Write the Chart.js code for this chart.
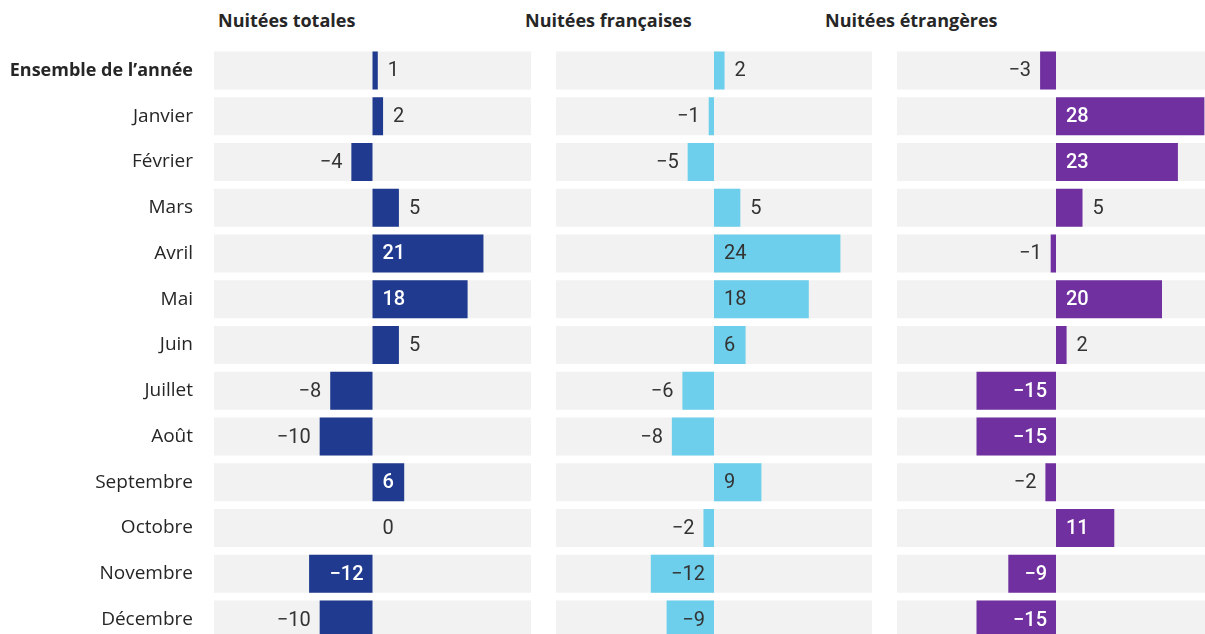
<!DOCTYPE html>
<html lang="fr">
<head>
<meta charset="utf-8">
<script src="https://cdn.jsdelivr.net/npm/chart.js@4"></script>
<style>
  html, body { margin: 0; padding: 0; background: #fff; overflow: hidden; width: 1205px; height: 634px; }
  canvas { position: absolute; top: 0; }
  .title { position: absolute; top: 8px; font: bold 18px "Open Sans", sans-serif; color: #262626; white-space: nowrap; }
</style>
</head>
<body>
<div class="title" style="left:218px">Nuitées totales</div>
<div class="title" style="left:525px">Nuitées françaises</div>
<div class="title" style="left:825px">Nuitées étrangères</div>

<canvas id="c1" width="531" height="660" style="left:0"></canvas>
<canvas id="c2" width="316" height="660" style="left:556px"></canvas>
<canvas id="c3" width="318" height="660" style="left:897px"></canvas>

<script>
// categories (rows)
const periods = ["Ensemble de l’année", "Janvier", "Février", "Mars", "Avril", "Mai", "Juin",
  "Juillet", "Août", "Septembre", "Octobre", "Novembre", "Décembre"];

// évolution des nuitées (%)
const totales    = [1, 2, -4, 5, 21, 18, 5, -8, -10, 6, 0, -12, -10];
const francaises = [2, -1, -5, 5, 24, 18, 6, -6, -8, 9, -2, -12, -9];
const etrangeres = [-3, 28, 23, 5, -1, 20, 2, -15, -15, -2, 11, -9, -15];

const X_MIN = -30, X_MAX = 30;

// value labels, inside the bar when it's wide enough
const valueLabels = {
  id: "valueLabels",
  afterDatasetsDraw(chart, args, opts) {
    const ctx = chart.ctx;
    const meta = chart.getDatasetMeta(1);
    const values = chart.data.datasets[1].data;
    ctx.save();
    ctx.textBaseline = "middle";
    meta.data.forEach((bar, i) => {
      const v = values[i];
      const txt = v < 0 ? "\u2212" + Math.abs(v) : String(v);
      ctx.font = "400 20px Roboto";
      const tw = ctx.measureText(txt).width;
      const barW = Math.abs(bar.x - bar.base);
      const inside = v > 0 ? barW - tw >= 20 : barW - tw >= 23;
      let x;
      if (inside) {
        ctx.font = (opts.insideColor === "#fff" ? "500" : "400") + " 20px Roboto";
        ctx.fillStyle = opts.insideColor;
        if (v > 0) { ctx.textAlign = "left"; x = bar.base + 10; }
        else { ctx.textAlign = "right"; x = bar.base - 9; }
      } else {
        ctx.fillStyle = "#333";
        if (v >= 0) { ctx.textAlign = "left"; x = bar.x + 10; }
        else { ctx.textAlign = "right"; x = bar.x - 9; }
      }
      ctx.fillText(txt, x, bar.y + 1);
    });
    ctx.restore();
  }
};

function makePanel(id, values, color, insideColor, showLabels) {
  const yScale = {
    display: showLabels,
    grid: { display: false, drawTicks: false },
    border: { display: false },
    ticks: {
      padding: 21,
      color: "#262626",
      font: c => c.index === 0
        ? { family: "'Open Sans', sans-serif", size: 18, weight: "bold" }
        : { family: "'Open Sans', sans-serif", size: 19, weight: "normal" }
    }
  };
  if (showLabels) {
    yScale.afterFit = s => {
      s.width = 214;
      s.paddingTop = 0;
      s.paddingBottom = 0;
    };
  }

  return new Chart(document.getElementById(id), {
    type: "bar",
    data: {
      labels: periods,
      datasets: [
        {
          data: periods.map(() => [X_MIN, X_MAX]),
          backgroundColor: "#f2f2f2",
          order: 2
        },
        {
          data: values,
          backgroundColor: color,
          order: 1
        }
      ]
    },
    options: {
      indexAxis: "y",
      responsive: false,
      animation: false,
      events: [],
      layout: { padding: { top: 47.6, bottom: 17.6, left: 0, right: 0 } },
      datasets: {
        bar: { grouped: false, barPercentage: 1, categoryPercentage: 0.83, borderWidth: 0 }
      },
      plugins: {
        legend: { display: false },
        tooltip: { enabled: false },
        valueLabels: { insideColor }
      },
      scales: {
        x: { display: false, min: X_MIN, max: X_MAX },
        y: yScale
      }
    },
    plugins: [valueLabels]
  });
}

makePanel("c1", totales, "#1f3a8e", "#fff", true);
makePanel("c2", francaises, "#6dcfeb", "#333", false);
makePanel("c3", etrangeres, "#7030a0", "#fff", false);
</script>
</body>
</html>
